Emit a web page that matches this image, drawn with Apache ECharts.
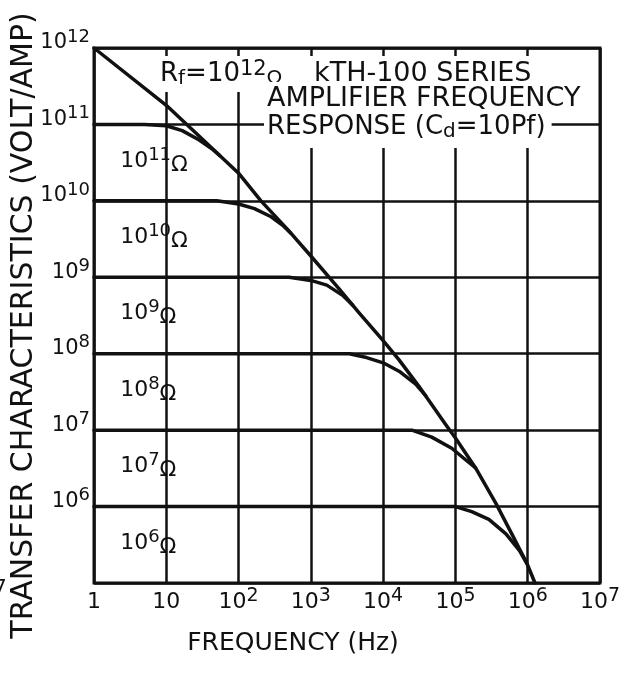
<!DOCTYPE html>
<html>
<head>
<meta charset="utf-8">
<script src="https://cdn.jsdelivr.net/npm/echarts@6/dist/echarts.min.js"></script>
<style>
    html, body { margin: 0; padding: 0; background: #fff; }
    #chart { width: 632px; height: 675px; }
</style>
</head>
<body>
<div id="chart"></div>
<script>
const ink = '#111';
const font = 'DejaVu Sans';

// tick labels, indexed by decade exponent
const xTickLabels = ['1', '10', '10^2', '10^3', '10^4', '10^5', '10^6', '10^7'];
const yTickLabels = ['', '10^6', '10^7', '10^8', '10^9', '10^10', '10^11', '10^12']; // from 10^5 up

// [frequency Hz, volt/amp]
const envelope = [
    [1, 1e12], [10, 1.78e11], [25, 7.9e10], [100, 2.3e10], [204, 1e10], [479, 4.2e9],
    [1000, 1.9e9], [2510, 6.9e8], [4680, 3.4e8], [1e4, 1.48e8], [1.66e4, 8.3e7],
    [3.09e4, 3.8e7], [7.24e4, 1.2e7], [1e5, 7.9e6], [1.9e5, 3.2e6], [3.63e5, 1.1e6],
    [6.17e5, 4.2e5], [9.77e5, 1.8e5], [1.26e6, 1e5],
];
const r11 = [[1, 1e11], [5, 1e11], [10, 9.6e10], [16.6, 8.3e10], [28.2, 6.3e10], [42.7, 4.8e10], [55, 3.9e10]];
const r10 = [[1, 1e10], [50, 1e10], [100, 9.1e9], [166, 7.9e9], [282, 6.2e9], [417, 4.7e9], [525, 3.8e9]];
const r9 = [[1, 1e9], [500, 1e9], [1000, 9.1e8], [1660, 7.9e8], [2750, 5.8e8], [3800, 4.3e8]];
const r8 = [[1, 1e8], [3400, 1e8], [5900, 8.9e7], [1e4, 7.6e7], [1.66e4, 5.9e7], [2.82e4, 4.0e7], [3.9e4, 2.8e7]];
const r7 = [[1, 1e7], [2.5e4, 1e7], [4.7e4, 8.1e6], [8.9e4, 5.8e6], [1.38e5, 4.1e6], [1.9e5, 3.2e6]];
const r6 = [[1, 1e6], [1e5, 1e6], [1.68e5, 8.6e5], [2.9e5, 6.8e5], [5e5, 4.4e5], [7.7e5, 2.65e5], [9.7e5, 1.8e5]];

const feedbackCurves = [
    { name: '10^11', value: 1e11, data: r11 },
    { name: '10^10', value: 1e10, data: r10 },
    { name: '10^9', value: 1e9, data: r9 },
    { name: '10^8', value: 1e8, data: r8 },
    { name: '10^7', value: 1e7, data: r7 },
    { name: '10^6', value: 1e6, data: r6 },
];

const toRich = (txt) => {
    const [base, exp] = txt.split('^');
    return exp ? `{b|${base}}{s|${exp}}` : `{b|${base}}`;
};
const decade = (v) => Math.round(Math.log10(v));

const tickRich = (size) => ({
    b: { fontFamily: font, fontSize: size, lineHeight: 30, color: ink },
    s: { fontFamily: font, fontSize: size - 3, lineHeight: 12, verticalAlign: 'top', color: ink },
});

const curveLabelRich = {
    b: { fontFamily: font, fontSize: 22, lineHeight: 30, color: ink },
    s: { fontFamily: font, fontSize: 18, lineHeight: 12, verticalAlign: 'top', color: ink },
    o: { fontFamily: font, fontSize: 22, lineHeight: 20, verticalAlign: 'bottom', color: ink },
};

const lineSeries = (name, data) => ({
    name,
    type: 'line',
    data,
    showSymbol: false,
    smooth: false,
    silent: true,
    lineStyle: { color: ink, width: 3.5, join: 'round', cap: 'round' },
});

const titleRich = (size) => ({
    t: { fontFamily: font, fontSize: size, lineHeight: 30, fill: ink },
    sub: { fontFamily: font, fontSize: size - 6, lineHeight: 18, verticalAlign: 'bottom', fill: ink },
    sup: { fontFamily: font, fontSize: size - 5, lineHeight: 14, verticalAlign: 'top', fill: ink },
});

const chart = echarts.init(document.getElementById('chart'), null, { renderer: 'canvas' });

chart.setOption({
    backgroundColor: '#fff',
    animation: false,
    grid: {
        left: 94, right: 32, top: 48, bottom: 92,
        outerBoundsMode: 'none',
        show: true, borderColor: ink, borderWidth: 3,
    },
    xAxis: {
        type: 'log',
        logBase: 10,
        min: 1,
        max: 1e7,
        name: 'FREQUENCY (Hz)',
        nameLocation: 'middle',
        nameGap: 48,
        nameMoveOverlap: false,
        nameTextStyle: { fontFamily: font, fontSize: 25, color: ink, padding: [0, 108, 0, 0] },
        axisLine: { show: false },
        axisTick: { show: false },
        axisLabel: {
            margin: 4,
            showMinLabel: true,
            showMaxLabel: true,
            formatter: (v) => toRich(xTickLabels[decade(v)]),
            rich: tickRich(22),
        },
        splitLine: { show: true, lineStyle: { color: ink, width: 2.5 } },
    },
    yAxis: {
        type: 'log',
        logBase: 10,
        min: 1e5,
        max: 1e12,
        name: 'TRANSFER CHARACTERISTICS (VOLT/AMP)',
        nameLocation: 'middle',
        nameRotate: 90,
        nameGap: 55,
        nameMoveOverlap: false,
        nameTextStyle: { fontFamily: font, fontSize: 30, color: ink, padding: [0, 20, 0, 0] },
        axisLine: { show: false },
        axisTick: { show: false },
        axisLabel: {
            margin: 4,
            padding: [0, 0, 10, 0],
            showMinLabel: true,
            showMaxLabel: true,
            formatter: (v) => toRich(yTickLabels[decade(v) - 5] || ''),
            rich: tickRich(21),
        },
        splitLine: { show: true, lineStyle: { color: ink, width: 2.5 } },
    },
    series: [
        lineSeries('10^12', envelope),
        ...feedbackCurves.map((c) => ({
            ...lineSeries(c.name, c.data),
            markPoint: {
                symbol: 'circle',
                symbolSize: 0,
                silent: true,
                label: {
                    show: true,
                    position: 'right',
                    distance: 0,
                    formatter: () => toRich(c.name) + '{o|Ω}',
                    rich: curveLabelRich,
                },
                data: [{ coord: [2.3, c.value / 3] }],
            },
        })),
    ],
    graphic: [
        {
            type: 'text', left: 156, top: 56, z: 100,
            style: {
                text: '{t|R}{sub|f}{t|=10}{sup|12}{sub|Ω}',
                rich: titleRich(26), backgroundColor: '#fff', padding: [3, 4, 3, 4],
            },
        },
        {
            type: 'text', left: 310, top: 56, z: 100,
            style: {
                text: '{t|kTH-100 SERIES}',
                rich: titleRich(27), backgroundColor: '#fff', padding: [3, 6, 3, 4],
            },
        },
        {
            type: 'text', left: 264, top: 82, z: 100,
            style: {
                text: '{t|AMPLIFIER FREQUENCY}',
                rich: titleRich(27), backgroundColor: '#fff', padding: [2, 4, 0, 3],
            },
        },
        {
            type: 'text', left: 264, top: 112, z: 100,
            style: {
                text: '{t|RESPONSE (C}{sub|d}{t|=10Pf)}',
                rich: titleRich(26), backgroundColor: '#fff', padding: [0, 6, 6, 3],
            },
        },
        {
            type: 'text', left: -6, top: 578, z: 100,
            style: { text: '7', fontFamily: font, fontSize: 20, fill: ink },
        },
    ],
});

window.addEventListener('resize', () => chart.resize());
</script>
</body>
</html>
